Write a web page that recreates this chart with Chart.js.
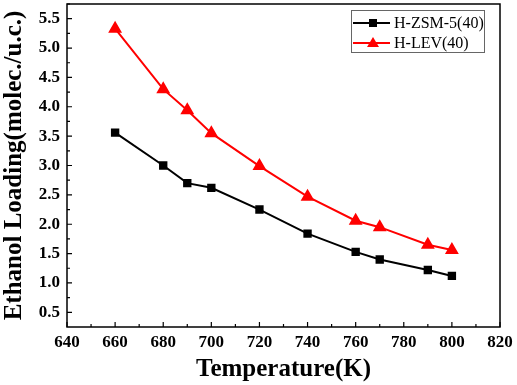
<!DOCTYPE html>
<html>
<head>
<meta charset="utf-8">
<script src="https://cdn.jsdelivr.net/npm/chart.js@4/dist/chart.umd.min.js"></script>
<style>
  html, body { margin: 0; padding: 0; background: #fff; }
  #wrap { width: 517px; height: 385px; }
</style>
</head>
<body>
<div id="wrap"><canvas id="chart"></canvas></div>
<script>
// Datos
const temperaturas = [660, 680, 690, 700, 720, 740, 760, 770, 790, 800];
const zsm5 = [3.56, 3.00, 2.70, 2.62, 2.25, 1.84, 1.53, 1.40, 1.22, 1.12];
const lev = [5.33, 4.30, 3.94, 3.55, 2.99, 2.47, 2.06, 1.95, 1.65, 1.56];
const yTicks = [0.5, 1.0, 1.5, 2.0, 2.5, 3.0, 3.5, 4.0, 4.5, 5.0, 5.5];
const xTicks = [640, 660, 680, 700, 720, 740, 760, 780, 800, 820];

const serif = '"Liberation Serif", "Times New Roman", serif';

// Marco, marcas hacia dentro y leyenda
const framePlugin = {
    id: 'frame',
    afterDraw(chart) {
        const ctx = chart.ctx;
        const a = chart.chartArea;
        const sx = chart.scales.x, sy = chart.scales.y;
        ctx.save();
        ctx.strokeStyle = '#000';
        ctx.lineWidth = 1.5;
        ctx.strokeRect(a.left, a.top, a.right - a.left, a.bottom - a.top);

        ctx.lineWidth = 1.2;
        ctx.beginPath();
        for (let v = 640; v <= 820; v += 10) {
            const px = sx.getPixelForValue(v);
            const len = v % 20 === 0 ? 5 : 3;
            ctx.moveTo(px, a.bottom);
            ctx.lineTo(px, a.bottom - len);
        }
        for (let v = 0.5; v <= 5.75; v += 0.25) {
            const py = sy.getPixelForValue(v);
            const len = Math.abs(v * 2 - Math.round(v * 2)) < 0.01 ? 5 : 3;
            ctx.moveTo(a.left, py);
            ctx.lineTo(a.left + len, py);
        }
        ctx.stroke();

        // Leyenda
        const bx = 351, by = 10, bw = 133, bh = 42;
        ctx.fillStyle = '#fff';
        ctx.fillRect(bx, by, bw, bh);
        ctx.strokeStyle = '#666';
        ctx.lineWidth = 1;
        ctx.strokeRect(bx + 0.5, by + 0.5, bw, bh);
        ctx.font = '16px ' + serif;
        ctx.textBaseline = 'middle';
        chart.data.datasets.forEach((ds, i) => {
            const yy = by + 13 + i * 20;
            ctx.strokeStyle = ds.borderColor;
            ctx.lineWidth = 2;
            ctx.beginPath();
            ctx.moveTo(bx + 2, yy);
            ctx.lineTo(bx + 39, yy);
            ctx.stroke();
            ctx.fillStyle = ds.borderColor;
            const cx = bx + 22;
            if (ds.pointStyle === 'rect') {
                ctx.fillRect(cx - 4, yy - 4, 8, 8);
            } else {
                ctx.beginPath();
                ctx.moveTo(cx, yy - 6);
                ctx.lineTo(cx + 6, yy + 4);
                ctx.lineTo(cx - 6, yy + 4);
                ctx.closePath();
                ctx.fill();
            }
            ctx.fillStyle = '#000';
            ctx.fillText(ds.label, bx + 43, yy + 1);
        });
        ctx.restore();
    }
};

new Chart(document.getElementById('chart'), {
    type: 'line',
    data: {
        datasets: [{
            label: 'H-ZSM-5(40)',
            data: temperaturas.map((t, i) => ({ x: t, y: zsm5[i] })),
            borderColor: '#000000',
            backgroundColor: '#000000',
            borderWidth: 2,
            pointStyle: 'rect',
            pointRadius: 4.5,
            pointHoverRadius: 4.5,
            tension: 0
        }, {
            label: 'H-LEV(40)',
            data: temperaturas.map((t, i) => ({ x: t, y: lev[i] })),
            borderColor: '#ff0000',
            backgroundColor: '#ff0000',
            borderWidth: 2,
            pointStyle: 'triangle',
            pointRadius: 6,
            pointHoverRadius: 6,
            tension: 0
        }]
    },
    options: {
        responsive: true,
        maintainAspectRatio: false,
        animation: false,
        events: [],
        layout: { autoPadding: false, padding: { left: 0, right: 17, top: 4, bottom: 0 } },
        plugins: {
            legend: { display: false },
            tooltip: { enabled: false }
        },
        scales: {
            x: {
                type: 'linear',
                min: 640,
                max: 820,
                afterBuildTicks: s => { s.ticks = xTicks.map(v => ({ value: v })); },
                afterFit: s => { s.height = 58; s.paddingLeft = 0; s.paddingRight = 0; },
                grid: { display: false, drawTicks: false },
                border: { display: false },
                ticks: {
                    color: '#000',
                    padding: 5,
                    font: { family: serif, size: 17, weight: 'bold' }
                },
                title: {
                    display: true,
                    text: 'Temperature(K)',
                    color: '#000',
                    padding: { top: 0, bottom: 0 },
                    font: { family: serif, size: 25, weight: 'bold' }
                }
            },
            y: {
                min: 0.25,
                max: 5.75,
                afterBuildTicks: s => { s.ticks = yTicks.map(v => ({ value: v })); },
                afterFit: s => { s.width = 67; s.paddingTop = 0; s.paddingBottom = 0; },
                grid: { display: false, drawTicks: false },
                border: { display: false },
                ticks: {
                    color: '#000',
                    padding: 7,
                    callback: v => Number(v).toFixed(1),
                    font: { family: serif, size: 17, weight: 'bold' }
                },
                title: {
                    display: true,
                    text: 'Ethanol Loading(molec./u.c.)',
                    color: '#000',
                    padding: { top: 0, bottom: 0 },
                    font: { family: serif, size: 25, weight: 'bold' }
                }
            }
        }
    },
    plugins: [framePlugin]
});
</script>
</body>
</html>
